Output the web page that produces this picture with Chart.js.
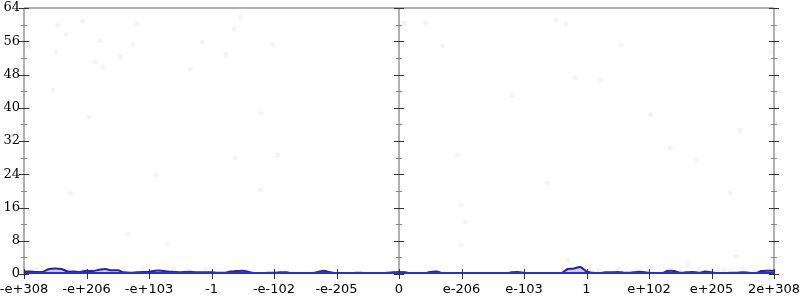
<!DOCTYPE html>
<html>
<head>
<meta charset="utf-8">
<script src="https://cdn.jsdelivr.net/npm/chart.js@4"></script>
<style>
  html, body { margin: 0; padding: 0; background: #fff; }
  #wrap { width: 800px; height: 300px; }
</style>
</head>
<body>
<div id="wrap"><canvas id="myChart"></canvas></div>
<script>
// tick labels along the float bit-pattern axis, one per unit step
const tickLabels = ["-e+308", "-e+206", "-e+103", "-1", "-e-102", "-e-205", "0",
  "e-206", "e-103", "1", "e+102", "e+205", "2e+308"];

// positions of the density samples (in tick units)
const densityX = [];
for (let i = -60; i <= 60; i++) densityX.push(i / 10);

// density line
const densityY = [
  0.6, 0.6, 0.5, 0.5, 1.2, 1.3, 1.2, 0.6, 0.6, 0.5,
  0.8, 0.7, 1.0, 1.2, 0.9, 0.9, 0.4, 0.3, 0.4, 0.5,
  0.5, 0.8, 0.8, 0.6, 0.5, 0.4, 0.5, 0.5, 0.4, 0.4,
  0.4, 0.3, 0.3, 0.6, 0.7, 0.8, 0.5, 0.2, 0.2, 0.3,
  0.3, 0.4, 0.4, 0.1, 0.1, 0.2, 0.2, 0.5, 0.8, 0.4,
  0.2, 0.1, 0.1, 0.3, 0.3, 0.1, 0.1, 0.1, 0.3, 0.4,
  0.5, 0.4, 0.1, 0.1, 0.1, 0.5, 0.6, 0.2, 0.1, 0.1,
  0.1, 0.1, 0.1, 0.1, 0.1, 0.1, 0.1, 0.1, 0.4, 0.5,
  0.3, 0.1, 0.1, 0.1, 0.1, 0.1, 0.2, 1.2, 1.3, 1.7,
  0.6, 0.3, 0.2, 0.4, 0.4, 0.5, 0.3, 0.3, 0.5, 0.5,
  0.3, 0.2, 0.2, 0.7, 0.7, 0.3, 0.4, 0.5, 0.3, 0.6,
  0.4, 0.2, 0.2, 0.3, 0.3, 0.4, 0.3, 0.2, 0.7, 0.8,
  0.8
];

// faint sample points
const sampleX = [-5.92, -5.47, -5.49, -5.33, -5.06, -4.78, -4.86, -4.74, -5.54, -4.96,
  -4.45, -4.26, -4.19, -3.34, -3.15, -2.77, -2.64, -2.54, -2.21, -2.02,
  -5.25, -3.89, -4.34, -3.71, -2.62, -2.22, -1.94,
  0.08, 0.42, 0.70, 0.94, 1.06, 0.99, 1.81, 2.38, 2.51, 2.67, 2.82, 3.22, 3.55,
  4.03, 4.34, 4.77, 5.46, 5.30, 5.94, 0.99, 2.70, 4.62, 5.39,
  -5.8, -5.6, -5.3, -5.1, -4.9, -4.6, -4.4, -4.1, -3.9, -3.6, -3.4, -3.1,
  3.2, 3.5, 3.8, 4.0, 4.3, 4.5, 4.8, 5.0, 5.2, 5.5, 5.7, 5.9];
const sampleY = [54.6, 59.9, 53.4, 57.7, 60.9, 56.1, 51.0, 49.6, 44.3, 37.8,
  52.2, 55.3, 60.2, 49.3, 55.8, 52.9, 59.0, 61.8, 38.7, 55.3,
  19.5, 23.8, 9.6, 7.2, 27.9, 20.2, 28.6,
  60.4, 60.4, 54.9, 28.6, 12.5, 16.6, 43.1, 21.9, 61.1, 60.2, 47.2, 46.7, 55.1,
  38.3, 30.3, 27.4, 34.6, 19.5, 53.4, 7.0, 3.4, 2.2, 4.3,
  1.1, 0.8, 1.3, 0.9, 1.2, 0.7, 1.0, 1.3, 0.8, 1.1, 0.9, 1.2,
  1.0, 1.2, 0.8, 1.3, 0.9, 1.1, 1.2, 0.8, 1.0, 1.3, 0.9, 1.1];

const yMax = 64;
const yStep = 8;

const axesPlugin = {
  id: "axesPlugin",
  beforeDatasetsDraw(chart) {
    const { ctx, chartArea: a, scales: { x } } = chart;
    ctx.save();
    ctx.strokeStyle = "#b0b0b0";
    ctx.lineWidth = 2;
    ctx.beginPath();
    ctx.moveTo(a.left, a.top); ctx.lineTo(a.right, a.top);
    [a.left, x.getPixelForValue(0), a.right].forEach(px => {
      ctx.moveTo(px, a.top); ctx.lineTo(px, a.bottom);
    });
    ctx.stroke();
    ctx.restore();
  },
  afterDatasetsDraw(chart) {
    const { ctx, chartArea: a, scales: { x, y } } = chart;
    ctx.save();
    // baseline band
    ctx.strokeStyle = "#2f2fc8";
    ctx.lineWidth = 2;
    ctx.beginPath();
    ctx.moveTo(a.left, a.bottom - 1); ctx.lineTo(a.right, a.bottom - 1);
    ctx.stroke();
    const cols = [a.left, x.getPixelForValue(0), a.right];
    ctx.lineWidth = 1;
    for (let v = 0; v <= yMax; v += yStep / 2) {
      const py = Math.round(y.getPixelForValue(v)) + 0.5;
      const major = v % yStep === 0;
      ctx.strokeStyle = major ? "#333" : "#888";
      const len = major ? 5 : 3;
      ctx.beginPath();
      cols.forEach(px => { ctx.moveTo(px - len, py); ctx.lineTo(px + len, py); });
      ctx.stroke();
    }
    ctx.strokeStyle = "#333";
    ctx.beginPath();
    for (let i = -6; i <= 6; i++) {
      const px = Math.round(x.getPixelForValue(i)) + 0.5;
      ctx.moveTo(px, a.bottom - 5); ctx.lineTo(px, a.bottom + 5);
    }
    ctx.stroke();
    ctx.restore();
  }
};

const ctx1 = document.getElementById("myChart");

new Chart(ctx1, {
  data: {
    datasets: [
      {
        type: "scatter",
        data: sampleX.map((v, i) => ({ x: v, y: sampleY[i] })),
        backgroundColor: "rgba(90, 90, 255, 0.07)",
        borderWidth: 0,
        pointRadius: 2.5,
      },
      {
        type: "line",
        data: densityX.map((v, i) => ({ x: v, y: densityY[i] })),
        borderColor: "#25259a",
        borderWidth: 2,
        backgroundColor: "rgba(90, 90, 240, 0.3)",
        fill: "origin",
        pointRadius: 0,
        tension: 0.3,
      },
    ],
  },
  options: {
    responsive: true,
    maintainAspectRatio: false,
    animation: false,
    events: [],
    layout: { padding: { left: 0, right: 26, top: 8, bottom: 0 } },
    plugins: {
      legend: { display: false },
      tooltip: { enabled: false },
    },
    scales: {
      x: {
        type: "linear",
        min: -6,
        max: 6,
        border: { display: false },
        grid: { display: false, drawTicks: false, tickLength: 0 },
        ticks: {
          stepSize: 1,
          autoSkip: false,
          maxRotation: 0,
          padding: 8,
          color: "#000",
          font: { family: "DejaVu Sans", size: 13 },
          callback: v => tickLabels[v + 6],
        },
        afterFit: s => { s.height = 26; s.paddingLeft = 0; s.paddingRight = 0; },
      },
      y: {
        min: 0,
        max: yMax,
        border: { display: false },
        grid: { display: false, drawTicks: false, tickLength: 0 },
        ticks: {
          stepSize: yStep,
          padding: 4,
          color: "#000",
          font: { family: "DejaVu Serif", size: 13 },
        },
        afterFit: s => { s.width = 24; s.paddingTop = 0; s.paddingBottom = 0; },
      },
    },
  },
  plugins: [axesPlugin],
});
</script>
</body>
</html>
